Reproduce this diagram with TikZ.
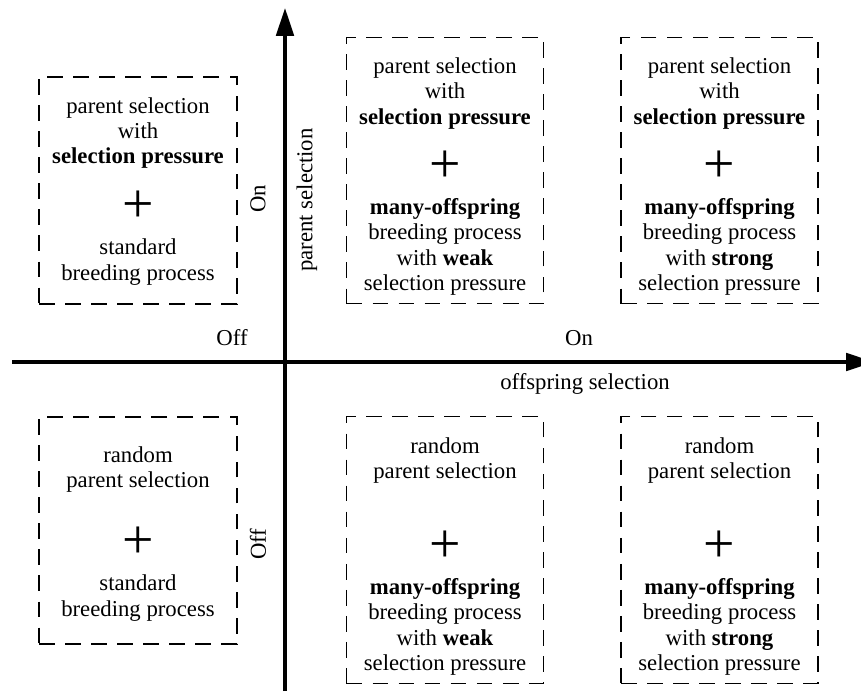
\documentclass[tikz,border=0pt]{standalone}
\usepackage{fontspec}
\setmainfont{Liberation Serif}
\usetikzlibrary{arrows.meta}

\begin{document}
\begin{tikzpicture}[x=0.017cm,y=-0.017cm,
    quad/.style={draw,dash pattern=on 7.6pt off 5pt,line width=0.6pt,inner sep=0pt},
    small/.style={quad,minimum width=3.366cm,minimum height=3.859cm},
    tall/.style={quad,minimum width=3.349cm,minimum height=4.53cm},
    lbl/.style={align=center,inner sep=0pt,font=\fontsize{11}{12.2}\selectfont},
    plus/.style={inner sep=0pt,font=\fontsize{27}{27}\selectfont},
    axis/.style={line width=1.5pt,-{Triangle[length=13.5pt,width=8.5pt]}}]

  \useasboundingbox (0,0) rectangle (861,691);

  % axes
  \coordinate (xs) at (12,362);
  \coordinate (xe) at (874,362);
  \coordinate (ys) at (285,691);
  \coordinate (ye) at (285,8);
  \draw[axis] (xs) -- (xe);
  \draw[axis] (ys) -- (ye);

  \node[lbl] (off1) at (232,338) {Off};
  \node[lbl] (on1) at (579,338) {On};
  \node[lbl] (offsel) at (585,384) {offspring selection};
  \node[lbl,rotate=90] (on2) at (258,199) {On};
  \node[lbl,rotate=90] (off2) at (258,544) {Off};
  \node[lbl,rotate=90] (parsel) at (307,200) {parent selection};

  % upper row
  \node[small] (tl) at (138,190.5) {};
  \node[lbl] (tlA) at (138,133) {parent selection\\with\\\textbf{selection pressure}};
  \node[plus] (tlP) at (138,207) {+};
  \node[lbl] (tlB) at (138,262) {standard\\breeding process};

  \node[tall] (tm) at (445,170.5) {};
  \node[lbl] (tmA) at (445,93.5) {parent selection\\with\\\textbf{selection pressure}};
  \node[plus] (tmP) at (445,167) {+};
  \node[lbl] (tmB) at (445,247) {\textbf{many-offspring}\\breeding process\\with \textbf{weak}\\selection pressure};

  \node[tall] (tr) at (719.5,170.5) {};
  \node[lbl] (trA) at (719.5,93.5) {parent selection\\with\\\textbf{selection pressure}};
  \node[plus] (trP) at (719.5,167) {+};
  \node[lbl] (trB) at (719.5,247) {\textbf{many-offspring}\\breeding process\\with \textbf{strong}\\selection pressure};

  % lower row
  \node[small] (bl) at (138,530.5) {};
  \node[lbl] (blA) at (138,469.5) {random\\parent selection};
  \node[plus] (blP) at (138,543) {+};
  \node[lbl] (blB) at (138,598) {standard\\breeding process};

  \node[tall] (bm) at (445,550) {};
  \node[lbl] (bmA) at (445,460.5) {random\\parent selection};
  \node[plus] (bmP) at (445,547) {+};
  \node[lbl] (bmB) at (445,627) {\textbf{many-offspring}\\breeding process\\with \textbf{weak}\\selection pressure};

  \node[tall] (br) at (719.5,550) {};
  \node[lbl] (brA) at (719.5,460.5) {random\\parent selection};
  \node[plus] (brP) at (719.5,547) {+};
  \node[lbl] (brB) at (719.5,627) {\textbf{many-offspring}\\breeding process\\with \textbf{strong}\\selection pressure};

\end{tikzpicture}
\end{document}
